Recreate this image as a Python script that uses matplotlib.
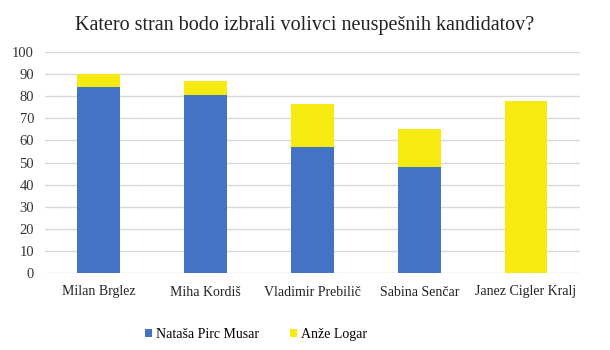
import matplotlib.pyplot as plt
import numpy as np

candidates = ["Milan Brglez", "Miha Kordiš", "Vladimir Prebilič", "Sabina Senčar", "Janez Cigler Kralj"]
musar = [84, 80.5, 57, 48, 0]
logar = [6, 6.5, 19.5, 17, 78]
series_names = ["Nataša Pirc Musar", "Anže Logar"]
yticks = list(range(0, 101, 10))

blue = "#4472C4"
yellow = "#F7EA10"

plt.rcParams['font.family'] = ['Liberation Serif', 'DejaVu Serif']

fig = plt.figure(figsize=(6.1, 3.5), dpi=100)
ax = fig.add_axes([0.074, 0.22, 0.876, 0.631])

x = np.arange(len(candidates))
ax.bar(x, musar, width=0.4, color=blue, label=series_names[0], zorder=3)
ax.bar(x, logar, width=0.4, bottom=musar, color=yellow, label=series_names[1], zorder=3)

ax.set_xlim(-0.5, len(candidates) - 0.5)
ax.set_ylim(0, 100)
ax.set_yticks(yticks)
ax.set_xticks(x)
ax.set_xticklabels(candidates, fontsize=10, color="#222222")
ax.tick_params(axis='y', labelsize=10.5, colors="#333333", length=0, pad=8)
ax.tick_params(axis='x', length=0, pad=9)
ax.grid(axis='y', color="#D9D9D9", linewidth=1, zorder=0)
for s in ax.spines.values():
    s.set_visible(False)

fig.suptitle("Katero stran bodo izbrali volivci neuspešnih kandidatov?",
             fontsize=14.5, color="#222222", y=0.955)

leg = fig.legend(loc='lower center', bbox_to_anchor=(0.42, -0.01), ncol=2, frameon=False,
                 fontsize=10, handlelength=0.5, handleheight=0.5, columnspacing=2.2,
                 handletextpad=0.3)

fig.savefig("out.png", dpi=100)
